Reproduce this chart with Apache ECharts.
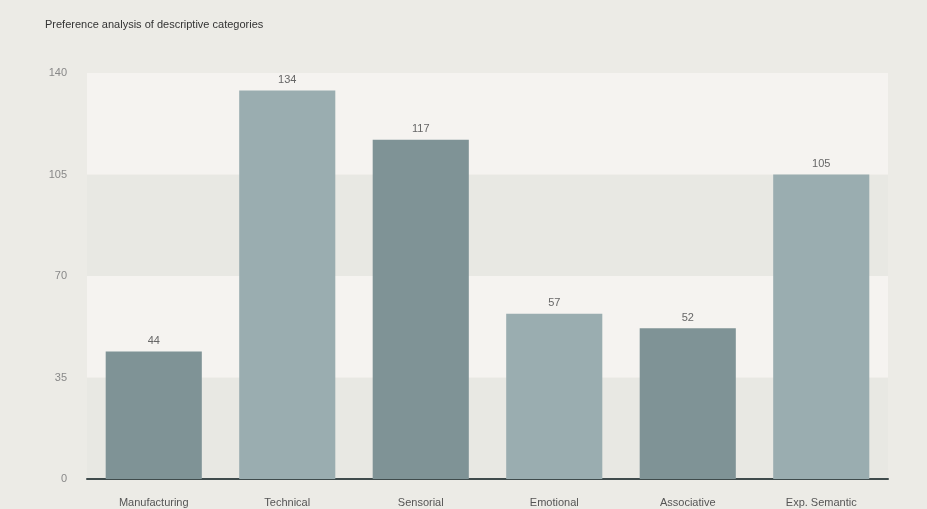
<!DOCTYPE html>
<html>
<head>
<meta charset="utf-8">
<script src="https://cdn.jsdelivr.net/npm/echarts@6/dist/echarts.min.js"></script>
<style>
    html, body { margin: 0; padding: 0; background: #ecebe6; }
    #chart { width: 927px; height: 509px; }
</style>
</head>
<body>
<div id="chart"></div>
<script>
// 数据
var categories = ["Manufacturing", "Technical", "Sensorial", "Emotional", "Associative", "Exp. Semantic"];
var values = [44, 134, 117, 57, 52, 105];
var barColors = ["#7f9396", "#9aadb0", "#7f9396", "#9aadb0", "#7f9396", "#9aadb0"];

var chart = echarts.init(document.getElementById("chart"));

var option = {
    backgroundColor: "#ecebe6",
    title: {
        text: "Preference analysis of descriptive categories",
        left: 40,
        top: 14,
        textStyle: {
            fontFamily: "Liberation Sans",
            fontSize: 11,
            fontWeight: "normal",
            color: "#333"
        }
    },
    grid: {
        left: 87,
        right: 39,
        top: 73,
        bottom: 30
    },
    xAxis: {
        type: "category",
        data: categories,
        axisLine: {
            lineStyle: { color: "#3f4b4c", width: 2 }
        },
        axisTick: { show: false },
        axisLabel: {
            fontFamily: "Liberation Sans",
            fontSize: 11,
            color: "#555",
            margin: 18
        }
    },
    yAxis: {
        type: "value",
        min: 0,
        max: 140,
        interval: 35, // 0,35,70,105,140
        axisLine: { show: false },
        axisTick: { show: false },
        splitLine: { show: false },
        splitArea: {
            show: true,
            areaStyle: {
                color: ["#e8e8e3", "#f5f3f0"]
            }
        },
        axisLabel: {
            fontFamily: "Liberation Sans",
            fontSize: 11,
            color: "#888",
            margin: 20
        }
    },
    series: [{
        type: "bar",
        barWidth: "72%",
        data: values.map(function (v, i) {
            return { value: v, itemStyle: { color: barColors[i] } };
        }),
        label: {
            show: true,
            position: "top",
            distance: 5,
            fontFamily: "Liberation Sans",
            fontSize: 11,
            color: "#666"
        }
    }]
};

chart.setOption(option);
</script>
</body>
</html>
